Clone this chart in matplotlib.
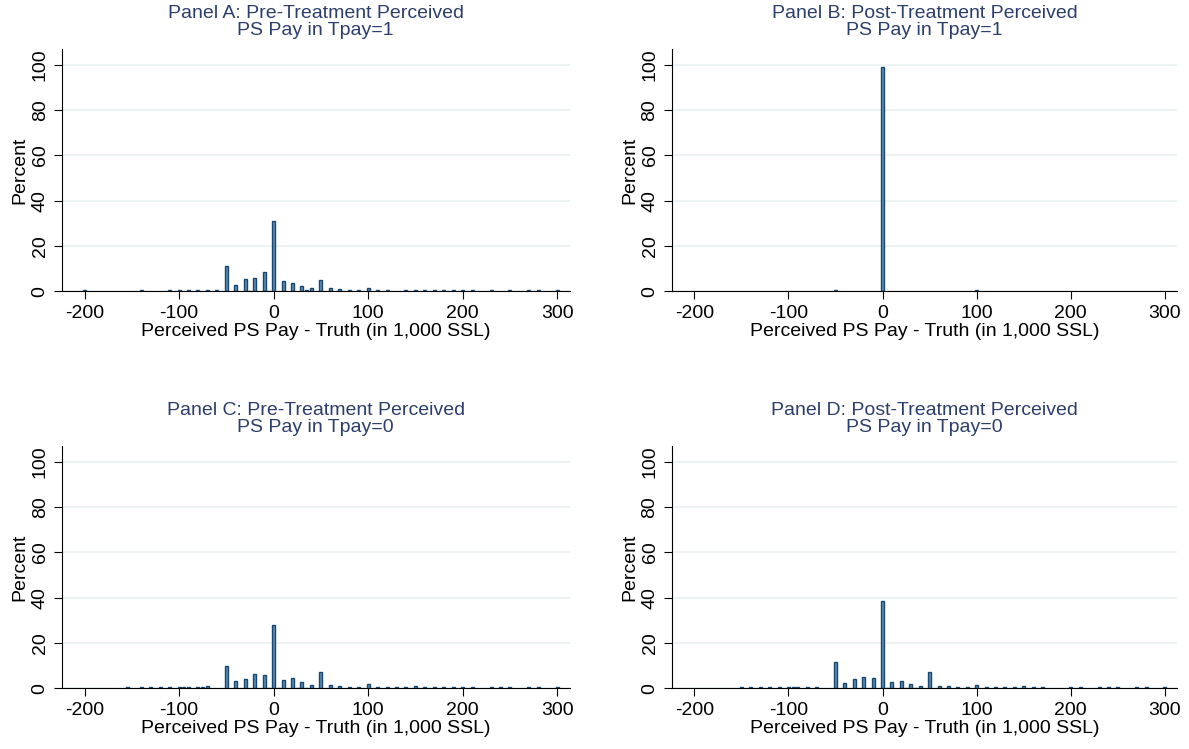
import matplotlib
matplotlib.use('Agg')
import matplotlib.pyplot as plt

plt.rcParams['font.family'] = ['Liberation Sans', 'DejaVu Sans']
plt.rcParams['axes.unicode_minus'] = False

# x = perceived - truth (1,000 SSL), y = percent
a_x = [-200, -140, -110, -100, -90, -80, -70, -60, -50, -40, -30, -25, -20, -10, -5, 0, 10, 20, 30, 35, 40,
       50, 60, 70, 80, 90, 100, 110, 120, 140, 150, 160, 170, 180, 190, 200, 210, 230, 250, 270, 280, 300]
a_y = [0.5, 0.5, 0.5, 0.5, 0.5, 0.5, 0.6, 0.7, 11, 3, 5.5, 0.3, 6, 8.5, 0.2, 31, 4.5, 3.7, 2.5, 0.5, 1.5,
       5, 1.3, 1, 0.5, 0.5, 1.3, 0.5, 0.5, 0.5, 0.5, 0.5, 0.5, 0.5, 0.5, 0.5, 0.5, 0.5, 0.5, 0.5, 0.5, 0.5]

b_x = [-50, 0, 100]
b_y = [0.5, 99, 0.5]

c_x = [-155, -140, -130, -120, -110, -100, -95, -90, -80, -75, -70, -50, -40, -30, -20, -10, -5, 0, 5,
       10, 20, 25, 30, 35, 40, 50, 60, 70, 80, 90, 100, 110, 120, 130, 140, 150, 160, 170, 180, 190, 200,
       210, 230, 240, 250, 270, 280, 300]
c_y = [0.5, 0.5, 0.5, 0.5, 0.5, 0.8, 0.5, 0.5, 0.5, 0.5, 1, 9.8, 3.2, 4.3, 6.5, 5.8, 0.2, 28, 0.3,
       3.5, 4.5, 0.3, 2.7, 0.3, 1.6, 7, 1.5, 1, 0.8, 0.5, 1.8, 0.5, 0.5, 0.5, 0.5, 1, 0.8, 0.5, 0.5, 0.5, 0.5,
       0.5, 0.5, 0.5, 0.5, 0.5, 0.5, 0.5]

d_x = [-150, -140, -130, -120, -110, -100, -95, -90, -80, -70, -50, -40, -30, -20, -10, 0, 5, 10, 20, 25,
       30, 35, 40, 50, 60, 70, 80, 90, 100, 110, 120, 130, 140, 150, 160, 170, 200, 210, 230, 240, 250,
       270, 280, 300]
d_y = [0.5, 0.5, 0.5, 0.5, 0.5, 0.8, 0.5, 0.5, 0.5, 0.5, 11.5, 2.5, 4, 4.8, 4.5, 38.5, 0.3, 3, 3.3, 0.3,
       2, 0.2, 1.2, 7, 1, 0.9, 0.7, 0.5, 1.5, 0.5, 0.5, 0.5, 0.5, 1, 0.6, 0.5, 0.5, 0.5, 0.5, 0.5, 0.5,
       0.5, 0.5, 0.5]

titles = ["Panel A: Pre-Treatment Perceived\nPS Pay in Tpay=1",
          "Panel B: Post-Treatment Perceived\nPS Pay in Tpay=1",
          "Panel C: Pre-Treatment Perceived\nPS Pay in Tpay=0",
          "Panel D: Post-Treatment Perceived\nPS Pay in Tpay=0"]
data = [(a_x, a_y), (b_x, b_y), (c_x, c_y), (d_x, d_y)]
rects = [[0.052, 0.611, 0.427, 0.324], [0.565, 0.611, 0.425, 0.324],
         [0.052, 0.081, 0.427, 0.324], [0.565, 0.081, 0.425, 0.324]]

navy = '#1a476f'
fig = plt.figure(figsize=(11.89, 7.49), dpi=100)
for (xs, ys), t, r in zip(data, titles, rects):
    ax = fig.add_axes(r)
    ax.bar(xs, ys, width=3.2, color='#5a8fb8', edgecolor=navy, linewidth=1)
    ax.set_xlim(-224, 313)
    ax.set_ylim(0, 107)
    ax.set_xticks([-200, -100, 0, 100, 200, 300])
    ax.set_yticks([0, 20, 40, 60, 80, 100])
    ax.tick_params(axis='both', labelsize=14, length=6)
    for lab in ax.get_yticklabels():
        lab.set_rotation(90)
        lab.set_va('center')
    ax.yaxis.grid(True, color='#eaf0f3', linewidth=1.2)
    ax.set_axisbelow(True)
    for s in ['top', 'right']:
        ax.spines[s].set_visible(False)
    ax.set_xlabel('Perceived PS Pay - Truth (in 1,000 SSL)', fontsize=14, labelpad=1)
    ax.set_ylabel('Percent', fontsize=14, labelpad=2)
    ax.set_title(t, fontsize=14, color='#2c3e6b', pad=10, linespacing=1.0)

fig.savefig('out.png', dpi=100)
